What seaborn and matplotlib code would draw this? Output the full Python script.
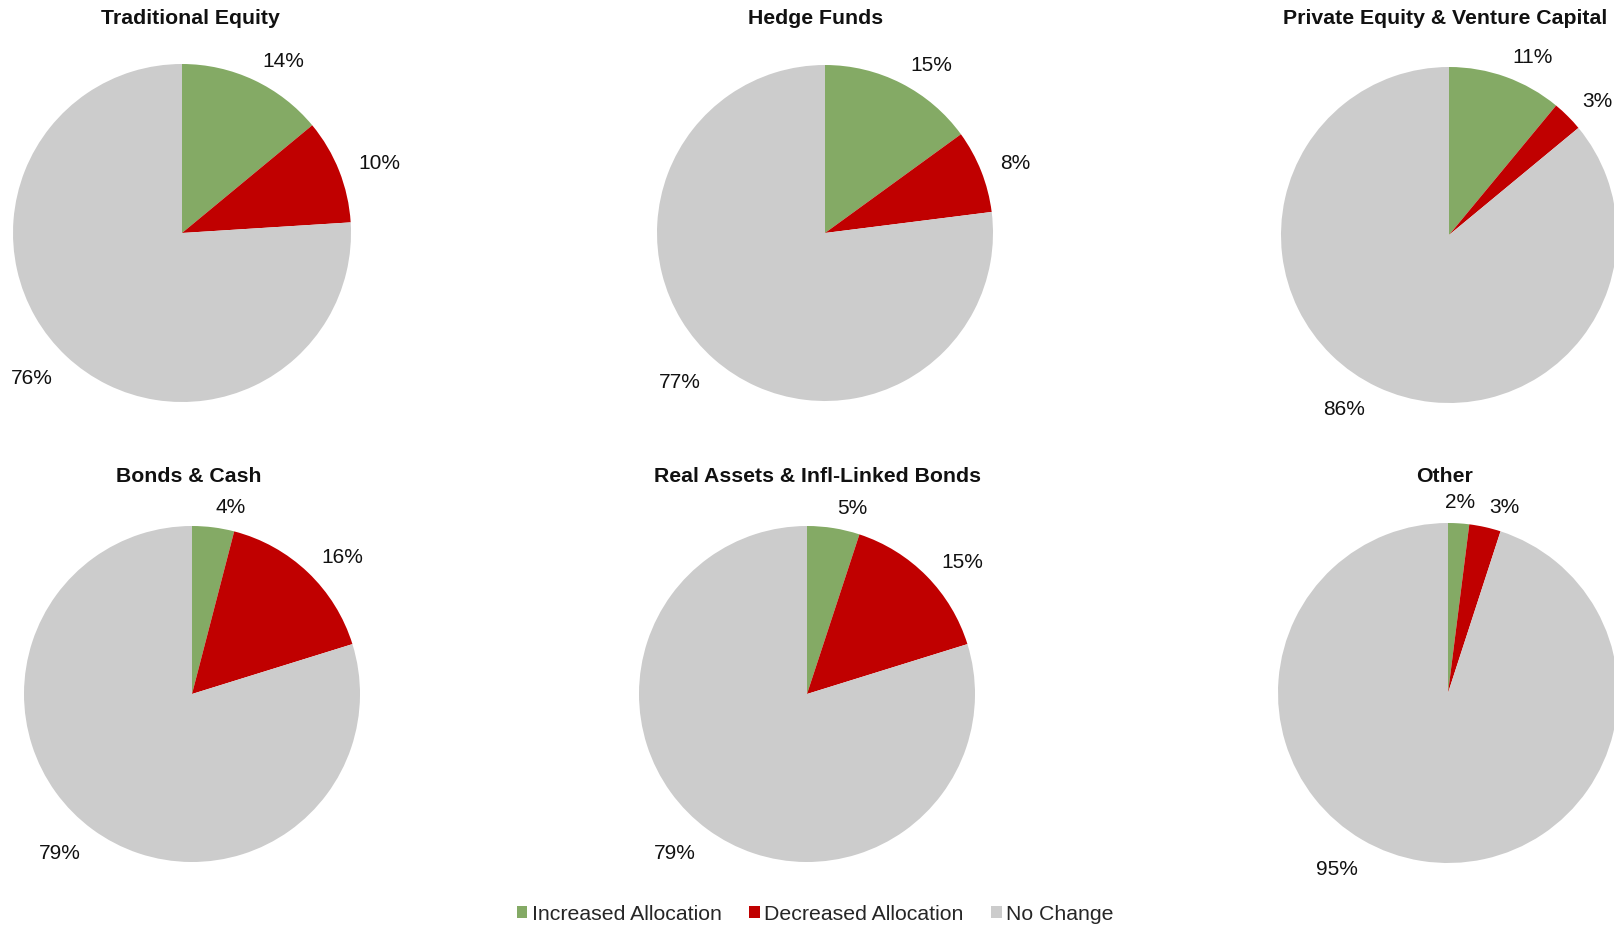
import matplotlib
matplotlib.use("Agg")
import matplotlib.pyplot as plt
from matplotlib.patches import Patch
import seaborn as sns

# Allocation changes by asset class (% of respondents)
categories = ["Increased Allocation", "Decreased Allocation", "No Change"]
asset_classes = [
    "Traditional Equity",
    "Hedge Funds",
    "Private Equity & Venture Capital",
    "Bonds & Cash",
    "Real Assets & Infl-Linked Bonds",
    "Other",
]
increased = [14, 15, 11, 4, 5, 2]
decreased = [10, 8, 3, 16, 15, 3]
no_change = [76, 77, 86, 79, 79, 95]

colors = ["#84AA65", "#C00000", "#CCCCCC"]

sns.set_theme(style="white")
plt.rcParams["font.family"] = ["Liberation Sans", "DejaVu Sans"]

W, H = 1614, 926
fig = plt.figure(figsize=(W / 100, H / 100), dpi=100)

# pie centre x/y, radius, title x/y for each panel (pixels from top-left)
layout = [
    (182, 233, 169, 190, 19),
    (825, 233, 168, 816, 19),
    (1449, 235, 168, 1445, 19),
    (192, 694, 168, 189, 477),
    (807, 694, 168, 817, 477),
    (1448, 693, 170, 1445, 477),
]
# extra shift (pixels right, down) for the "No Change" label of each panel
no_change_nudge = [(0, 0), (0, 0), (-4, -4), (0, 0), (0, 0), (-60, -20)]

LABEL_DIST = 1.12

for name, inc, dec, nc, (cx, cy, r, tx, ty), (nx, ny) in zip(
    asset_classes, increased, decreased, no_change, layout, no_change_nudge
):
    ax = fig.add_axes([(cx - r) / W, 1 - (cy + r) / H, 2 * r / W, 2 * r / H])
    values = [inc, dec, nc]
    wedges, texts = ax.pie(
        values,
        colors=colors,
        startangle=90,
        counterclock=False,
        labels=[f"{v}%" for v in values],
        labeldistance=LABEL_DIST,
        wedgeprops=dict(linewidth=0),
        textprops=dict(fontsize=15, color="#111111"),
    )
    for w in wedges:
        w.set_clip_on(False)
    # labels near the vertical are centred; lower labels sit a little further out
    for t in texts:
        x, y = t.get_position()
        if abs(x) < 0.1 * LABEL_DIST:
            t.set_ha("center")
        if y < 0:
            t.set_position((x, y - 8 / r))
    x, y = texts[2].get_position()
    texts[2].set_position((x + nx / r, y - ny / r))
    ax.set_xlim(-1, 1)
    ax.set_ylim(-1, 1)
    ax.axis("off")
    fig.text(tx / W, 1 - ty / H, name, ha="center", va="center",
             fontsize=15.3, fontweight="bold", color="#111111")

handles = [Patch(facecolor=c, edgecolor="none", label=l) for c, l in zip(colors, categories)]
fig.legend(
    handles=handles,
    loc="center",
    bbox_to_anchor=(815 / W, 1 - 914 / H),
    ncol=3,
    frameon=False,
    handlelength=0.5,
    handleheight=0.5,
    handletextpad=0.2,
    columnspacing=1.3,
    prop=dict(size=15.3),
)

fig.savefig("out.png", dpi=100)
